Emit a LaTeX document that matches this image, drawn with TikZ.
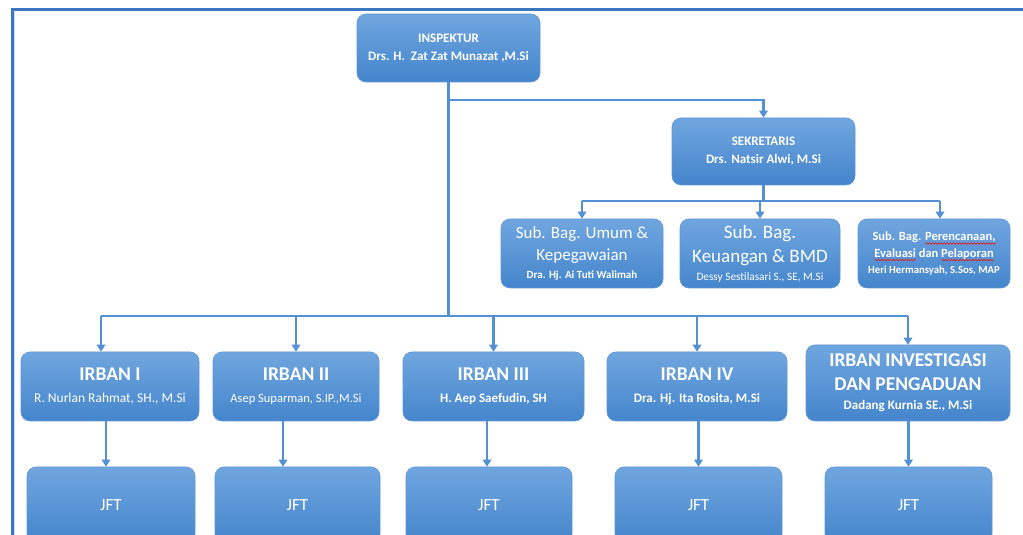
\documentclass[tikz,border=0pt]{standalone}
\usepackage{fontspec}
\setmainfont{Carlito}
\usetikzlibrary{arrows.meta,decorations.pathmorphing}
\definecolor{boxtop}{RGB}{112,166,223}
\definecolor{boxbot}{RGB}{68,133,204}
\definecolor{connc}{RGB}{84,145,212}
\definecolor{framec}{RGB}{58,119,192}
\definecolor{squigc}{RGB}{214,40,40}
\newsavebox\wavebox
\newcommand\redwave[1]{\sbox\wavebox{#1}\rlap{\tikz[baseline=0pt]\draw[squigc, line width=0.7pt, sharp corners,
  decorate, decoration={snake, amplitude=0.8pt, segment length=3pt}] (0pt,-3pt) -- (\wd\wavebox,-3pt);}\usebox\wavebox}
\tikzset{
  orgbox/.style={rectangle, rounded corners=9pt, top color=boxtop, bottom color=boxbot,
    draw=boxbot!85!white, line width=0.6pt, text=white, align=center, inner sep=0pt},
  headfont/.style={font=\fontsize{13}{18}\selectfont\bfseries},
  bigfont/.style={font=\fontsize{17}{22}\selectfont},
  irbfont/.style={font=\fontsize{19.5}{22}\selectfont\bfseries},
  line/.style={draw=connc, line width=2.4pt},
  arr/.style={line, -{Triangle[width=8.5pt,length=7pt]}},
}
\begin{document}
\begin{tikzpicture}[x=1pt,y=1pt]
\clip (0,0) rectangle (1023,535);
\fill[white] (0,0) rectangle (1023,535);
% frame
\draw[framec, line width=3pt] (12,-5) -- (12,525) -- (1023,525);
\draw[framec!30!white, line width=1pt] (14.5,-5) -- (14.5,522.5);

% boxes
\node[orgbox, headfont, minimum width=183pt, minimum height=68pt] (insp) at (448.5,487)
  {INSPEKTUR\\Drs. H.\ \ Zat Zat Munazat ,M.Si};
\node[orgbox, headfont, minimum width=183pt, minimum height=67pt] (sek) at (763.5,383.5)
  {SEKRETARIS\\Drs. Natsir Alwi, M.Si};

\node[orgbox, bigfont, minimum width=162pt, minimum height=69pt] (sb1) at (582,281.5)
  {Sub. Bag. Umum \&\\Kepegawaian\\[-4pt]{\fontsize{11}{12}\selectfont\bfseries Dra. Hj. Ai Tuti Walimah}};
\node[orgbox, font=\fontsize{19}{24}\selectfont, minimum width=160pt, minimum height=69pt] (sb2) at (760,281.5)
  {Sub. Bag.\\Keuangan \& BMD\\[-6pt]{\fontsize{11.3}{12}\selectfont Dessy Sestilasari S., SE, M.Si}};
\node[orgbox, font=\fontsize{12.5}{16.5}\selectfont\bfseries, minimum width=152pt, minimum height=69pt] (sb3) at (934,281.5)
  {Sub. Bag. \redwave{Perencanaan,}\\\redwave{Evaluasi} dan \redwave{Pelaporan}\\{\fontsize{10.7}{12}\selectfont Heri Hermansyah, S.Sos, MAP}};

\node[orgbox, irbfont, minimum width=178pt, minimum height=69pt] (irb1) at (110,148.5)
  {IRBAN I\\{\fontsize{13.5}{15}\mdseries\selectfont R. Nurlan Rahmat, SH., M.Si}};
\node[orgbox, irbfont, minimum width=166pt, minimum height=69pt] (irb2) at (296,148.5)
  {IRBAN II\\{\fontsize{12.5}{15}\mdseries\selectfont Asep Suparman, S.IP.,M.Si}};
\node[orgbox, irbfont, minimum width=181pt, minimum height=69pt] (irb3) at (493.5,148.5)
  {IRBAN III\\{\fontsize{13}{15}\selectfont H. Aep Saefudin, SH}};
\node[orgbox, irbfont, minimum width=180pt, minimum height=69pt] (irb4) at (697,148.5)
  {IRBAN IV\\{\fontsize{13}{15}\selectfont Dra. Hj. Ita Rosita, M.Si}};
\node[orgbox, font=\fontsize{19.5}{24}\selectfont\bfseries, minimum width=204pt, minimum height=76pt] (irb5) at (908,152)
  {IRBAN INVESTIGASI\\DAN PENGADUAN\\[-5pt]{\fontsize{13}{15}\selectfont Dadang Kurnia SE., M.Si}};

\node[orgbox, bigfont, minimum width=168pt, minimum height=76pt] (jft1) at (111,30) {JFT};
\node[orgbox, bigfont, minimum width=165pt, minimum height=76pt] (jft2) at (297.5,30) {JFT};
\node[orgbox, bigfont, minimum width=166pt, minimum height=76pt] (jft3) at (489,30) {JFT};
\node[orgbox, bigfont, minimum width=167pt, minimum height=76pt] (jft4) at (698.5,30) {JFT};
\node[orgbox, bigfont, minimum width=167pt, minimum height=76pt] (jft5) at (908.5,30) {JFT};

% connectors
\coordinate (sekbr) at (0,435);
\coordinate (bus) at (0,219);
\coordinate (sbbus) at (0,334);

\draw[line] (insp.south) -- (insp.south |- bus);
\draw[arr] (insp.south |- sekbr) -| (sek.north);

\draw[line] (sek.south) -- (sek.south |- sbbus);
\draw[line] (sb1.north |- sbbus) -- ([xshift=6pt]sb3.north |- sbbus);
\draw[arr] (sb1.north |- sbbus) -- (sb1.north);
\draw[arr] (sb2.north |- sbbus) -- (sb2.north);
\draw[arr] ([xshift=6pt]sb3.north |- sbbus) -- ([xshift=6pt]sb3.north);

\draw[line] ([xshift=-9pt]irb1.north |- bus) -- (irb5.north |- bus);
\draw[arr] ([xshift=-9pt]irb1.north |- bus) -- ([xshift=-9pt]irb1.north);
\draw[arr] (irb2.north |- bus) -- (irb2.north);
\draw[arr] (irb3.north |- bus) -- (irb3.north);
\draw[arr] (irb4.north |- bus) -- (irb4.north);
\draw[arr] (irb5.north |- bus) -- (irb5.north);

\draw[arr] ([xshift=-5pt]jft1.north |- irb1.south) -- ([xshift=-5pt]jft1.north);
\draw[arr] ([xshift=-14.5pt]jft2.north |- irb2.south) -- ([xshift=-14.5pt]jft2.north);
\draw[arr] ([xshift=-2pt]jft3.north |- irb3.south) -- ([xshift=-2pt]jft3.north);
\draw[arr] (jft4.north |- irb4.south) -- (jft4.north);
\draw[arr] (jft5.north |- irb5.south) -- (jft5.north);
\end{tikzpicture}
\end{document}
